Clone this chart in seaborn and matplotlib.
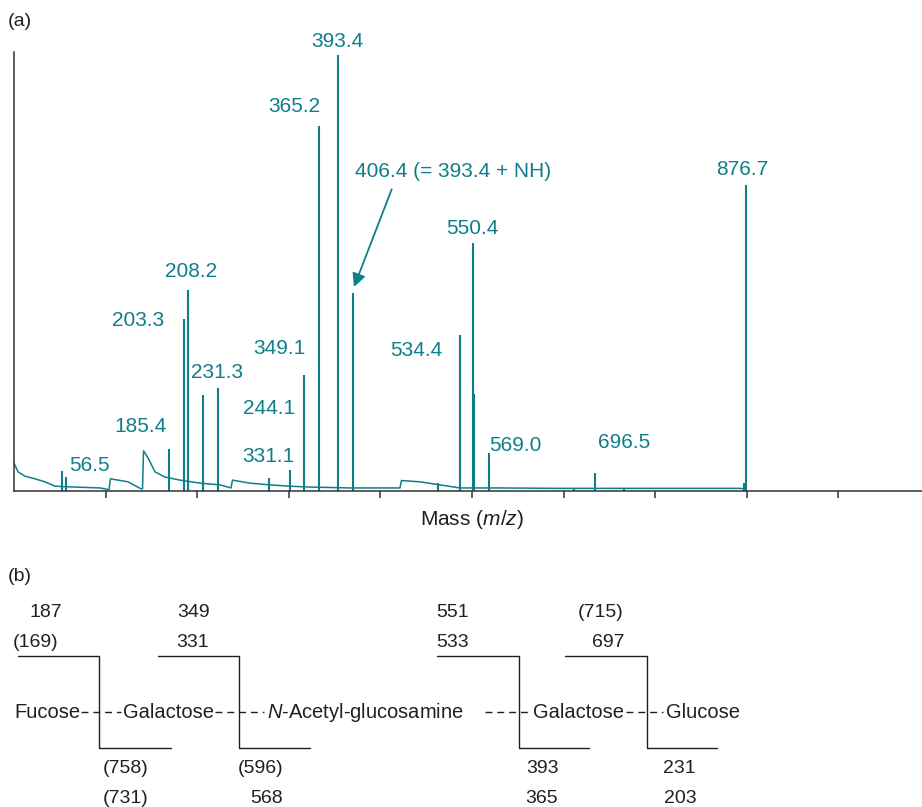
import numpy as np
import pandas as pd
import seaborn as sns
import matplotlib.pyplot as plt

# spectrum, x in axis units (ticks every 100), intensity in % of base peak
baseline_pos = [0, 4.4, 12.0, 22.9, 33.8, 44.8, 66.6, 93.9, 103.7, 105.3, 113.5, 124.5,
                138.6, 140.3, 141.4, 146.3, 153.9, 164.8, 181.2, 203.1, 224.9, 236.9,
                238.5, 257.6, 279.5, 301.3, 323.1, 366.8, 421.4, 423.0, 443.2, 465.1,
                486.9, 530.6, 596.1, 661.6, 727.1, 792.6, 799.1]
baseline_int = [6.4, 4.4, 3.4, 2.8, 2.1, 1.1, 0.9, 0.7, 0.3, 2.8, 2.5, 2.1,
                0.5, 0.5, 9.2, 7.6, 4.4, 3.2, 2.5, 1.8, 1.4, 0.7,
                2.5, 1.8, 1.4, 1.1, 0.9, 0.7, 0.7, 2.4, 2.1, 1.4,
                0.7, 0.7, 0.6, 0.6, 0.6, 0.6, 0.5]

peak_pos = [52.1, 56.4, 168.9, 185.3, 190.0, 205.8, 222.4, 278.1, 301.3, 317.1, 333.0,
            353.4, 369.8, 462.6, 486.9, 500.8, 502.5, 518.6, 611.4, 634.3, 666.0,
            796.9, 799.1]
peak_int = [4.6, 3.2, 9.6, 39.4, 46.1, 22.0, 23.6, 3.0, 4.8, 26.6, 83.7,
            100.0, 45.5, 1.9, 35.8, 56.9, 22.2, 8.8, 0.8, 4.1, 0.6,
            1.8, 70.2]

# peak labels (pixel positions of the text)
label_text = ["393.4", "365.2", "876.7", "550.4", "208.2", "203.3", "349.1", "534.4",
              "231.3", "244.1", "185.4", "331.1", "56.5", "569.0", "696.5"]
label_x = [337, 294.5, 742.5, 472, 191, 138, 279, 416, 217, 268.7, 140, 268.7, 89.3, 515, 624]
label_y = [47, 112, 175, 234.5, 277, 326.5, 354.5, 356.5, 378, 413.5, 432.5, 462, 471, 451, 448.5]

# fragmentation scheme (b)
sugars = ["Fucose", "Galactose", "$\\it{N}$-Acetyl-glucosamine", "Galactose", "Glucose"]
frag_top1 = ["187", "349", "551", "(715)"]
frag_top2 = ["(169)", "331", "533", "697"]
frag_bot1 = ["(758)", "(596)", "393", "231"]
frag_bot2 = ["(731)", "568", "365", "203"]

teal = "#0e7f88"
ink = "#231f20"

sns.set_style("white")
plt.rcParams['font.family'] = ['Liberation Sans', 'DejaVu Sans']
plt.rcParams['mathtext.fontset'] = 'custom'
plt.rcParams['mathtext.rm'] = 'Liberation Sans'
plt.rcParams['mathtext.it'] = 'Liberation Sans:italic'

fig = plt.figure(figsize=(9.22, 8.07), dpi=100)
ax = fig.add_axes([14 / 922, 1 - 491 / 807, 908 / 922, 439 / 807])

base_df = pd.DataFrame({"pos": baseline_pos, "intensity": baseline_int})
sns.lineplot(data=base_df, x="pos", y="intensity", sort=False, estimator=None,
             color=teal, lw=1.1, ax=ax)
ax.vlines(peak_pos, 0, peak_int, color=teal, lw=1.5)

ax.set_xlim(0, 991.3)
ax.set_ylim(0, 100.7)
ax.set_xticks(np.arange(100, 1000, 100))
ax.set_xticklabels([])
ax.set_yticks([])
ax.set_xlabel("")
ax.set_ylabel("")
ax.tick_params(axis="x", direction="out", length=5, width=1.1, color="#333333", bottom=True)
for s in ["top", "right"]:
    ax.spines[s].set_visible(False)
for s in ["left", "bottom"]:
    ax.spines[s].set_color("#333333")
    ax.spines[s].set_linewidth(1.1)

# overlay in pixel coordinates for text and the scheme
ov = fig.add_axes([0, 0, 1, 1])
ov.set_xlim(0, 922)
ov.set_ylim(807, 0)
ov.axis("off")

ov.text(8, 26, "(a)", fontsize=14, color=ink, va="baseline")
ov.text(8, 581, "(b)", fontsize=14, color=ink, va="baseline")
ov.text(471.7, 525, "Mass ($m/z$)", fontsize=15, color=ink, ha="center", va="baseline")

for t, x, y in zip(label_text, label_x, label_y):
    ov.text(x, y, t, fontsize=15, color=teal, ha="center", va="baseline")

ov.text(355, 177, "406.4 (= 393.4 + NH)", fontsize=15, color=teal, ha="left", va="baseline")
ov.annotate("", xy=(354, 287), xytext=(391.7, 189.3),
            arrowprops=dict(arrowstyle="-|>", color=teal, lw=1.3, mutation_scale=20,
                            shrinkA=0, shrinkB=0))

# scheme: sugar names and dashed bonds
name_x = [14, 123.3, 266.7, 533.3, 666]
for n, x in zip(sugars, name_x):
    ov.text(x, 718.5, n, fontsize=14.5, color=ink, ha="left", va="baseline")
bond_x = [(81, 121), (215, 264), (485, 531), (626, 663)]
for x0, x1 in bond_x:
    ov.plot([x0, x1], [711.5, 711.5], color=ink, lw=1.0, dashes=(5, 3.5))

# cleavage brackets: top start, vertical, bottom end
bracket = [(18.3, 99.3, 170.7), (158.3, 239, 310), (437, 519.3, 589.3), (565.3, 647.3, 717.3)]
for x0, xv, x1 in bracket:
    ov.plot([x0, xv, xv, x1], [655.7, 655.7, 748.3, 748.3], color=ink, lw=1.0)

top_x1 = [46, 193.3, 453, 601]
top_x2 = [36, 193, 453, 608.7]
bot_x1 = [125.3, 260.5, 542, 679]
bot_x2 = [125.3, 266.3, 542, 680]
for t, x in zip(frag_top1, top_x1):
    ov.text(x, 617, t, fontsize=14, color=ink, ha="center", va="baseline")
for t, x in zip(frag_top2, top_x2):
    ov.text(x, 646.7, t, fontsize=14, color=ink, ha="center", va="baseline")
for t, x in zip(frag_bot1, bot_x1):
    ov.text(x, 773.3, t, fontsize=14, color=ink, ha="center", va="baseline")
for t, x in zip(frag_bot2, bot_x2):
    ov.text(x, 803, t, fontsize=14, color=ink, ha="center", va="baseline")

fig.savefig("out.png", dpi=100)
